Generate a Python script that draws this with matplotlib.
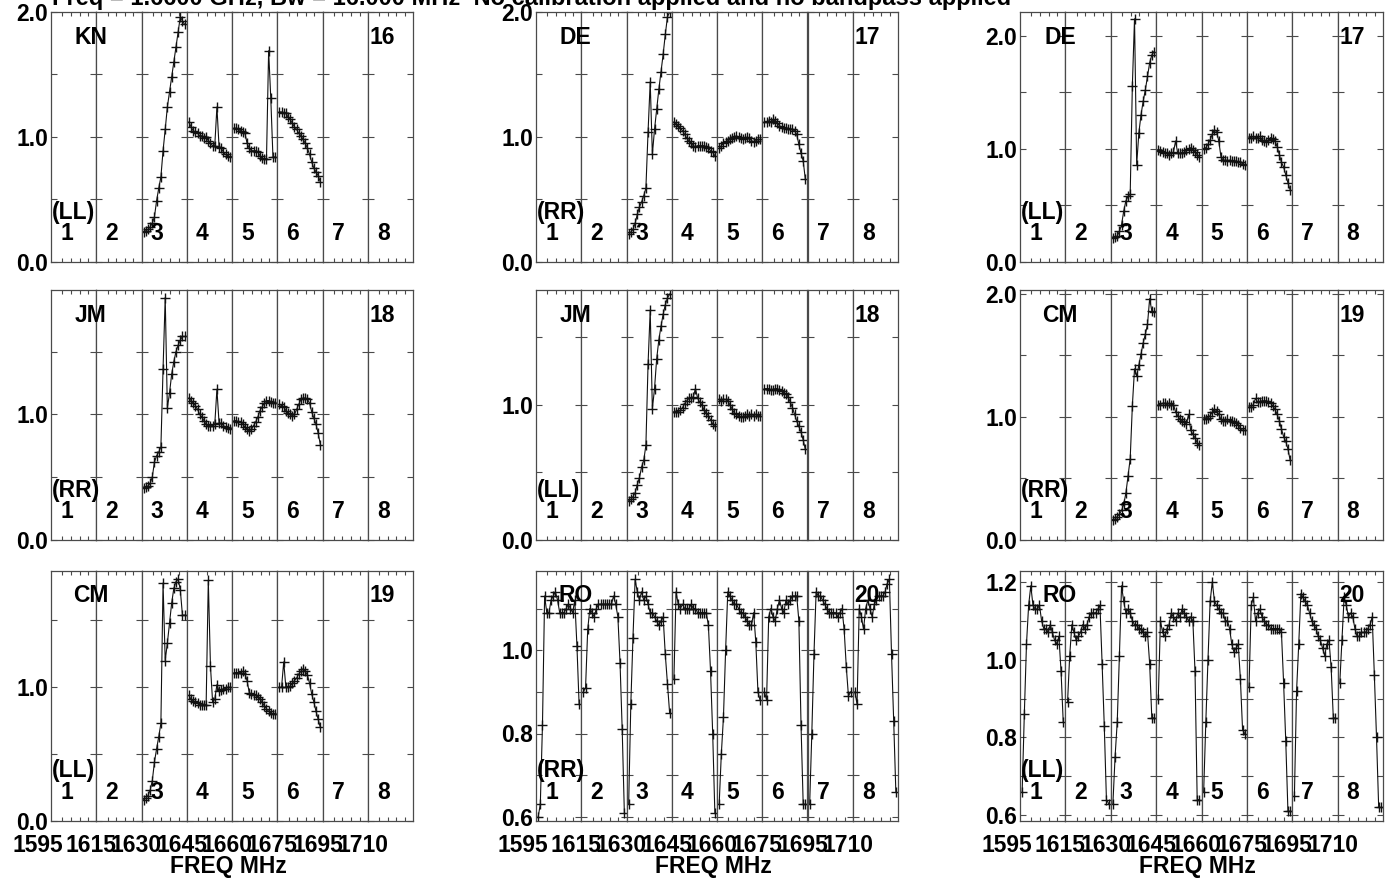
import numpy as np
import matplotlib
matplotlib.use('Agg')
import matplotlib.pyplot as plt
import matplotlib.transforms as mtransforms

plt.rcParams['font.family'] = ['Liberation Sans', 'DejaVu Sans']
plt.rcParams['font.weight'] = 'bold'

title = 'Freq = 1.6600 GHz, Bw = 16.000 MHz  No calibration applied and no bandpass applied'
freq_labels = ['1595', '1615', '1630', '1645', '1660', '1675', '1695', '1710']
if_names = ['1', '2', '3', '4', '5', '6', '7', '8']

# amplitude per channel, keyed by IF number
kn_ll = {
    3: [0.24, 0.25, 0.26, 0.28, 0.31, 0.36, 0.49, 0.59, 0.68, 0.89, 1.06, 1.24, 1.36, 1.48, 1.60, 1.72, 1.84, 1.96, 1.93, 1.90],
    4: [1.12, 1.08, 1.05, 1.04, 1.03, 1.01, 1.01, 0.99, 1.00, 0.97, 0.95, 0.93, 0.93, 1.24, 0.92, 0.91, 0.88, 0.86, 0.85, 0.84],
    5: [1.07, 1.07, 1.06, 1.05, 1.04, 1.03, 0.95, 0.91, 0.89, 0.89, 0.89, 0.88, 0.85, 0.83, 0.82, 0.82, 1.69, 1.31, 0.84, 0.84],
    6: [1.20, 1.20, 1.19, 1.19, 1.16, 1.14, 1.11, 1.08, 1.06, 1.03, 1.01, 0.98, 0.95, 0.91, 0.86, 0.80, 0.75, 0.72, 0.69, 0.64],
}
de_rr = {
    3: [0.22, 0.24, 0.26, 0.31, 0.38, 0.44, 0.48, 0.53, 0.59, 1.04, 1.44, 0.86, 1.06, 1.22, 1.38, 1.52, 1.66, 1.82, 1.96, 2.00],
    4: [1.12, 1.10, 1.09, 1.07, 1.05, 1.02, 0.99, 0.97, 0.95, 0.93, 0.92, 0.93, 0.93, 0.93, 0.93, 0.92, 0.91, 0.89, 0.88, 0.85],
    5: [0.91, 0.93, 0.95, 0.96, 0.97, 0.98, 0.99, 1.00, 1.01, 1.00, 0.99, 0.98, 0.99, 1.00, 0.99, 0.97, 0.96, 0.97, 0.98, 0.98],
    6: [1.12, 1.12, 1.13, 1.12, 1.14, 1.13, 1.11, 1.09, 1.08, 1.07, 1.07, 1.06, 1.06, 1.06, 1.05, 1.02, 0.94, 0.87, 0.81, 0.66],
}
de_ll = {
    3: [0.21, 0.22, 0.23, 0.27, 0.33, 0.45, 0.54, 0.58, 0.60, 1.56, 2.15, 0.86, 1.14, 1.30, 1.42, 1.52, 1.64, 1.76, 1.83, 1.86],
    4: [0.99, 0.98, 0.97, 0.96, 0.96, 0.95, 0.96, 0.97, 1.07, 0.96, 0.96, 0.96, 0.97, 0.99, 1.00, 1.01, 0.99, 0.97, 0.95, 0.93],
    5: [1.00, 1.01, 1.04, 1.08, 1.13, 1.17, 1.15, 1.07, 0.93, 0.90, 0.90, 0.89, 0.90, 0.89, 0.89, 0.89, 0.88, 0.88, 0.87, 0.86],
    6: [1.10, 1.10, 1.11, 1.10, 1.10, 1.11, 1.08, 1.07, 1.06, 1.08, 1.10, 1.09, 1.07, 1.02, 0.95, 0.88, 0.84, 0.77, 0.70, 0.64],
}
jm_rr = {
    3: [0.41, 0.42, 0.43, 0.45, 0.50, 0.62, 0.67, 0.70, 0.74, 1.36, 1.93, 1.05, 1.17, 1.32, 1.42, 1.50, 1.55, 1.59, 1.62, 1.62],
    4: [1.13, 1.11, 1.09, 1.07, 1.04, 1.00, 0.98, 0.95, 0.92, 0.91, 0.91, 0.91, 0.92, 1.20, 0.93, 0.93, 0.91, 0.90, 0.89, 0.88],
    5: [0.95, 0.95, 0.94, 0.94, 0.92, 0.90, 0.88, 0.87, 0.88, 0.91, 0.94, 0.98, 1.03, 1.06, 1.09, 1.11, 1.11, 1.10, 1.09, 1.09],
    6: [1.08, 1.07, 1.06, 1.03, 1.01, 1.00, 0.99, 1.00, 1.04, 1.08, 1.12, 1.13, 1.13, 1.12, 1.09, 1.02, 0.97, 0.92, 0.85, 0.76],
}
jm_ll = {
    3: [0.29, 0.30, 0.32, 0.35, 0.41, 0.46, 0.54, 0.59, 0.70, 1.30, 1.70, 0.97, 1.12, 1.34, 1.48, 1.58, 1.67, 1.74, 1.79, 1.82],
    4: [0.95, 0.95, 0.95, 0.96, 0.98, 1.01, 1.03, 1.05, 1.05, 1.06, 1.12, 1.05, 1.02, 1.00, 0.96, 0.94, 0.92, 0.89, 0.86, 0.84],
    5: [1.04, 1.03, 1.04, 1.04, 1.03, 1.00, 0.97, 0.94, 0.93, 0.92, 0.91, 0.91, 0.92, 0.93, 0.92, 0.93, 0.92, 0.93, 0.92, 0.92],
    6: [1.12, 1.12, 1.12, 1.11, 1.11, 1.12, 1.12, 1.11, 1.10, 1.09, 1.08, 1.06, 1.02, 0.98, 0.93, 0.88, 0.84, 0.80, 0.74, 0.67],
}
cm_rr = {
    3: [0.16, 0.17, 0.19, 0.21, 0.24, 0.29, 0.38, 0.52, 0.66, 1.09, 1.39, 1.33, 1.42, 1.51, 1.60, 1.67, 1.75, 1.96, 1.86, 1.85],
    4: [1.10, 1.10, 1.11, 1.11, 1.10, 1.11, 1.10, 1.10, 1.04, 1.01, 0.98, 0.97, 0.96, 0.94, 1.02, 0.89, 0.86, 0.83, 0.79, 0.77],
    5: [0.98, 0.98, 0.99, 1.01, 1.04, 1.06, 1.05, 1.02, 0.98, 0.97, 0.97, 0.98, 0.97, 0.97, 0.96, 0.95, 0.93, 0.91, 0.89, 0.89],
    6: [1.08, 1.08, 1.10, 1.15, 1.12, 1.12, 1.13, 1.13, 1.13, 1.12, 1.11, 1.09, 1.06, 1.02, 0.97, 0.90, 0.84, 0.80, 0.74, 0.65],
}
cm_ll = {
    3: [0.16, 0.17, 0.19, 0.23, 0.30, 0.44, 0.54, 0.63, 0.73, 1.78, 1.20, 1.33, 1.48, 1.63, 1.74, 1.79, 1.81, 1.73, 1.54, 1.54],
    4: [0.94, 0.91, 0.90, 0.89, 0.88, 0.87, 0.87, 0.87, 0.87, 1.80, 1.16, 0.89, 0.91, 1.02, 0.97, 0.98, 0.99, 0.99, 1.00, 1.00],
    5: [1.11, 1.11, 1.11, 1.11, 1.12, 1.10, 1.05, 0.96, 0.95, 0.94, 0.94, 0.93, 0.91, 0.89, 0.86, 0.84, 0.82, 0.81, 0.80, 0.80],
    6: [1.00, 1.00, 1.19, 1.00, 1.00, 1.01, 1.03, 1.05, 1.07, 1.10, 1.12, 1.14, 1.12, 1.09, 1.03, 0.95, 0.89, 0.82, 0.76, 0.70],
}
ro_rr = {
    1: [0.60, 0.63, 0.82, 1.13, 1.09, 1.09, 1.12, 1.13, 1.14, 1.12, 1.09, 1.09, 1.09, 1.10, 1.11, 1.10, 1.09, 1.12, 1.01, 0.87],
    2: [0.90, 0.91, 1.05, 1.10, 1.09, 1.08, 1.10, 1.11, 1.11, 1.11, 1.11, 1.11, 1.11, 1.11, 1.13, 1.11, 1.08, 0.97, 0.81, 0.61],
    3: [0.63, 0.87, 1.03, 1.17, 1.14, 1.12, 1.14, 1.12, 1.13, 1.11, 1.09, 1.09, 1.08, 1.07, 1.06, 1.07, 1.08, 0.99, 0.92, 0.85],
    4: [0.93, 1.14, 1.11, 1.10, 1.11, 1.10, 1.10, 1.10, 1.11, 1.10, 1.10, 1.09, 1.09, 1.09, 1.09, 1.09, 1.06, 0.95, 0.80, 0.61],
    5: [0.63, 0.75, 0.84, 1.00, 1.14, 1.13, 1.12, 1.11, 1.11, 1.10, 1.09, 1.09, 1.08, 1.07, 1.06, 1.06, 1.09, 1.02, 0.90, 0.88],
    6: [0.90, 0.88, 1.08, 1.10, 1.08, 1.07, 1.10, 1.12, 1.10, 1.09, 1.12, 1.11, 1.12, 1.13, 1.13, 1.13, 1.07, 0.82, 0.63, 0.63],
    7: [0.63, 0.80, 0.99, 1.14, 1.13, 1.13, 1.12, 1.11, 1.10, 1.09, 1.09, 1.09, 1.09, 1.08, 1.09, 1.10, 1.05, 0.96, 0.89, 0.90],
    8: [0.90, 0.87, 1.10, 1.08, 1.05, 1.10, 1.12, 1.10, 1.08, 1.11, 1.12, 1.13, 1.13, 1.13, 1.14, 1.16, 1.17, 0.99, 0.83, 0.66],
}
ro_ll = {
    1: [0.66, 0.86, 1.04, 1.14, 1.19, 1.14, 1.13, 1.13, 1.14, 1.10, 1.08, 1.08, 1.07, 1.09, 1.07, 1.05, 1.04, 1.06, 0.97, 0.84],
    2: [0.89, 1.01, 1.09, 1.07, 1.05, 1.06, 1.07, 1.09, 1.08, 1.09, 1.11, 1.12, 1.12, 1.12, 1.13, 1.14, 0.99, 0.83, 0.64, 0.63],
    3: [0.63, 0.75, 0.84, 1.01, 1.19, 1.15, 1.12, 1.13, 1.12, 1.10, 1.09, 1.09, 1.08, 1.08, 1.07, 1.06, 1.07, 0.99, 0.85, 0.85],
    4: [0.90, 1.10, 1.07, 1.06, 1.08, 1.09, 1.12, 1.11, 1.10, 1.12, 1.11, 1.13, 1.12, 1.11, 1.10, 1.11, 1.10, 0.97, 0.64, 0.64],
    5: [0.66, 0.84, 1.00, 1.15, 1.20, 1.15, 1.14, 1.13, 1.12, 1.12, 1.10, 1.10, 1.08, 1.04, 1.02, 1.03, 1.04, 0.95, 0.82, 0.81],
    6: [0.93, 1.14, 1.16, 1.10, 1.12, 1.13, 1.11, 1.10, 1.09, 1.09, 1.08, 1.08, 1.08, 1.08, 1.08, 1.07, 0.94, 0.79, 0.61, 0.61],
    7: [0.65, 0.92, 1.04, 1.17, 1.16, 1.15, 1.14, 1.12, 1.10, 1.09, 1.08, 1.06, 1.05, 1.03, 1.01, 1.04, 1.05, 0.98, 0.85, 0.85],
    8: [0.94, 1.05, 1.16, 1.14, 1.11, 1.12, 1.11, 1.08, 1.06, 1.06, 1.07, 1.07, 1.07, 1.08, 1.09, 1.11, 0.96, 0.80, 0.62, 0.62],
}

# station, polarization, baseline, data, y range, tick step, label step
panels = [
    ('KN', '(LL)', '16', kn_ll, (0, 2.0), 0.5, 1.0),
    ('DE', '(RR)', '17', de_rr, (0, 2.0), 0.5, 1.0),
    ('DE', '(LL)', '17', de_ll, (0, 2.21), 0.5, 1.0),
    ('JM', '(RR)', '18', jm_rr, (0, 1.99), 0.5, 1.0),
    ('JM', '(LL)', '18', jm_ll, (0, 1.85), 0.5, 1.0),
    ('CM', '(RR)', '19', cm_rr, (0, 2.03), 0.5, 1.0),
    ('CM', '(LL)', '19', cm_ll, (0, 1.87), 0.5, 1.0),
    ('RO', '(RR)', '20', ro_rr, (0.59, 1.19), 0.1, 0.2),
    ('RO', '(LL)', '20', ro_ll, (0.585, 1.228), 0.1, 0.2),
]

W, H = 1390, 880
fig = plt.figure(figsize=(W / 100, H / 100), dpi=100)
col_left = [51, 536, 1020]
col_width = [362, 362, 363]
row_top = [12, 290, 571]
ph = 250
nchan = 20
fs = 16.5
frame = '#4a4a4a'
minor_x = np.array([0.25, 0.44, 0.63, 0.82]) * (nchan + 1)
label_shift = [-13] + [-5] * 7

for k, (stn, pol, bl, data, ylim, step, lstep) in enumerate(panels):
    r, c = divmod(k, 3)
    x0 = col_left[c]
    bw = col_width[c] / 8
    yb = 1 - (row_top[r] + ph) / H
    yt = np.round(np.arange(np.ceil(ylim[0] / step - 1e-6) * step, ylim[1] + 1e-6, step), 3) + 0.0
    for b in range(8):
        ax = fig.add_axes([(x0 + b * bw) / W, yb, bw / W, ph / H])
        ax.set_xlim(0, nchan + 1)
        ax.set_ylim(*ylim)
        if b + 1 in data:
            vals = data[b + 1]
            ax.plot(np.arange(1, len(vals) + 1), vals, color='#111111', lw=0.8,
                    marker='+', ms=6.5, mew=1.0)
        ax.set_yticks(yt)
        if b == 0:
            labs = ['%.1f' % v if abs(v / lstep - round(v / lstep)) < 1e-3 else '' for v in yt]
            ax.set_yticklabels(labs)
        else:
            ax.set_yticklabels([])
        ax.tick_params(axis='y', direction='in', length=4.5, width=0.8, left=True, right=True,
                       labelsize=fs, pad=2, color=frame)
        ax.set_xticks([0])
        ax.set_xticklabels([freq_labels[b]] if r == 2 else [''])
        ax.tick_params(axis='x', which='major', length=0, labelsize=fs, pad=9)
        shift = mtransforms.ScaledTranslation(label_shift[b] / 100, 0, fig.dpi_scale_trans)
        for lab in ax.get_xticklabels():
            lab.set_transform(lab.get_transform() + shift)
        ax.set_xticks(minor_x, minor=True)
        ax.tick_params(axis='x', which='minor', direction='in', length=3, width=0.8,
                       top=True, bottom=True, color=frame)
        for sp in ax.spines.values():
            sp.set_color(frame)
            sp.set_linewidth(0.9)
        ax.text(0.34, 0.116, if_names[b], transform=ax.transAxes, ha='center', va='center',
                fontsize=fs, fontweight='bold')
    pw = col_width[c]
    top = 1 - row_top[r] / H
    fig.text((x0 + 0.11 * pw) / W, top - 0.10 * ph / H, stn, ha='center', va='center',
             fontsize=fs, fontweight='bold')
    fig.text((x0 + 0.914 * pw) / W, top - 0.10 * ph / H, bl, ha='center', va='center',
             fontsize=fs, fontweight='bold')
    fig.text((x0 + 1) / W, top - 0.80 * ph / H, pol, ha='left', va='center',
             fontsize=fs, fontweight='bold')
    if r == 2:
        fig.text((x0 + pw / 2 - 4) / W, 1 - 866 / H, 'FREQ MHz', ha='center', va='center',
                 fontsize=fs, fontweight='bold')

fig.text(52 / W, 1 - 5 / H, title, ha='left', va='baseline', fontsize=17, fontweight='bold')

fig.savefig('out.png', dpi=100)
